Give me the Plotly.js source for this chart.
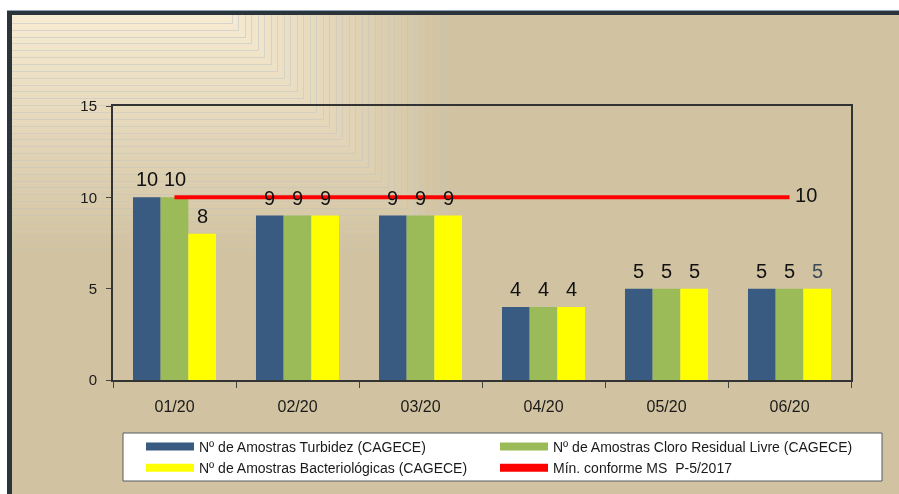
<!DOCTYPE html>
<html>
<head>
<meta charset="utf-8">
<script src="https://cdn.plot.ly/plotly-3.0.1.min.js"></script>
<style>
  html, body { margin: 0; padding: 0; background: #ffffff; }
  #wrap { position: relative; width: 899px; height: 494px; overflow: hidden; }
  #bg { position: absolute; left: 0; top: 0; }
  #chart { position: absolute; left: 0; top: 0; width: 899px; height: 494px; }
</style>
</head>
<body>
<div id="wrap">
  <canvas id="bg" width="899" height="494"></canvas>
  <div id="chart"></div>
</div>
<script>
// ---- data ----
const meses = ['01/20', '02/20', '03/20', '04/20', '05/20', '06/20'];
const turbidez = [10, 9, 9, 4, 5, 5];
const cloro = [10, 9, 9, 4, 5, 5];
const bacteriologicas = [8, 9, 9, 4, 5, 5];
const minimo = [10, 10, 10, 10, 10, 10];
const nomes = [
  'Nº de Amostras Turbidez (CAGECE)',
  'Nº de Amostras Cloro Residual Livre (CAGECE)',
  'Nº de Amostras Bacteriológicas (CAGECE)',
  'Mín. conforme MS  P-5/2017'
];

// ---- background (frame + fading pattern in the top-left corner) ----
(function drawBackground() {
  const c = document.getElementById('bg');
  const g = c.getContext('2d');
  const W = 899, H = 494;
  g.fillStyle = '#ffffff';
  g.fillRect(0, 0, W, H);
  const tan = [209, 195, 161];
  const cream = [248, 236, 211];
  g.fillStyle = 'rgb(' + tan.join(',') + ')';
  g.fillRect(7, 10, W - 7, H - 10);
  const N = 60;
  const x0 = 12, y0 = 15;
  for (let i = N; i >= 0; i--) {
    const s = i / N;
    const cx = 225 + s * 228;
    const cy = 16 + s * 240;
    const col = cream.map((v, k) => Math.round(v + (tan[k] - v) * Math.pow(s, 0.9)));
    g.fillStyle = 'rgb(' + col.join(',') + ')';
    g.fillRect(x0, y0, cx - x0, cy - y0);
  }
  // thin L-shaped lines
  g.lineWidth = 1;
  for (let i = 1; i <= 34; i++) {
    const s = i / 35;
    const cx = Math.round(225 + s * 228) + 0.5;
    const cy = Math.round(16 + s * 240) + 0.5;
    g.strokeStyle = 'rgba(175,188,202,' + (0.45 - 0.25 * s).toFixed(2) + ')';
    g.beginPath();
    g.moveTo(x0, cy);
    g.lineTo(cx, cy);
    g.lineTo(cx, y0);
    g.stroke();
  }
  // frame
  g.fillStyle = '#8ea3b8';
  g.fillRect(7, 10, W - 7, 1);
  g.fillStyle = '#2b333b';
  g.fillRect(7, 11, W - 7, 4);
  g.fillRect(7, 11, 5, H - 11);
})();

// ---- chart ----
const font = 'Liberation Sans, Arial, sans-serif';
const cores = ['#3a5b81', '#9bbb59', '#ffff00', '#ff0000'];
const series = [turbidez, cloro, bacteriologicas];

const L = 113, R = 48, T = 106, B = 114;
const pw = 899 - L - R, ph = 494 - T - B;
const px = (p) => (p - L) / pw;
const py = (p) => (494 - B - p) / ph;
const bargap = 0.325;
const barPx = pw / meses.length * (1 - bargap) / series.length;

const traces = series.map((vals, k) => ({
  type: 'bar',
  x: meses,
  y: vals,
  name: nomes[k],
  legendgroup: 'g' + k,
  showlegend: false,
  marker: { color: cores[k], line: { width: 0 } },
  hoverinfo: 'x+y+name'
}));

traces.push({
  type: 'scatter',
  mode: 'lines+text',
  x: meses,
  y: minimo,
  name: nomes[3],
  legendgroup: 'g3',
  showlegend: false,
  line: { color: cores[3], width: 4 },
  text: minimo.map((v, i) => i === minimo.length - 1 ? ' ' + v : ''),
  textposition: 'middle right',
  textfont: { family: font, size: 20, color: '#111111' },
  cliponaxis: false
});

// legend entries (wide swatches like the original), two columns
nomes.forEach((n, k) => {
  traces.push({
    type: 'scatter',
    mode: 'lines',
    x: [null],
    y: [null],
    name: n,
    legend: (k % 2 === 0) ? 'legend' : 'legend2',
    legendgroup: 'g' + k,
    showlegend: true,
    line: { color: cores[k], width: 8 },
    hoverinfo: 'skip'
  });
});

// value labels above the bars
const annotations = [];
series.forEach((vals, k) => {
  vals.forEach((v, i) => {
    annotations.push({
      x: meses[i], y: v, xref: 'x', yref: 'y',
      text: String(v), showarrow: false,
      xanchor: 'center', yanchor: 'bottom',
      xshift: (k - (series.length - 1) / 2) * barPx,
      yshift: 5,
      font: { family: font, size: 20,
              color: (k === 2 && i === vals.length - 1) ? '#3d4856' : '#111111' }
    });
  });
});

const legendBase = {
  orientation: 'v',
  xanchor: 'left',
  yanchor: 'top',
  bgcolor: 'rgba(0,0,0,0)',
  borderwidth: 0,
  font: { family: font, size: 14, color: '#1a1a1a' },
  itemwidth: 48,
  tracegroupgap: 0,
  itemclick: false,
  itemdoubleclick: false
};

const layout = {
  width: 899,
  height: 494,
  margin: { l: L, r: R, t: T, b: B, pad: 0, autoexpand: false },
  paper_bgcolor: 'rgba(0,0,0,0)',
  plot_bgcolor: 'rgba(0,0,0,0)',
  font: { family: font, color: '#1a1a1a', size: 14 },
  barmode: 'group',
  bargap: bargap,
  bargroupgap: 0,
  showlegend: true,
  annotations: annotations,
  xaxis: {
    type: 'category',
    automargin: false,
    tickson: 'boundaries',
    ticks: 'outside',
    ticklen: 6,
    tickwidth: 1,
    tickcolor: '#444',
    showline: true,
    linecolor: '#333',
    linewidth: 2,
    mirror: true,
    showgrid: false,
    zeroline: false,
    tickfont: { family: font, size: 16, color: '#1a1a1a' },
    ticklabelstandoff: 11,
    fixedrange: true
  },
  yaxis: {
    range: [0, 15],
    automargin: false,
    tickvals: [0, 5, 10, 15],
    ticks: 'outside',
    ticklen: 5,
    tickwidth: 1,
    tickcolor: '#444',
    showline: true,
    linecolor: '#333',
    linewidth: 2,
    mirror: true,
    showgrid: false,
    zeroline: false,
    tickfont: { family: font, size: 15, color: '#1a1a1a' },
    ticklabelstandoff: 6,
    fixedrange: true
  },
  legend: Object.assign({}, legendBase, { x: px(141), y: py(431) }),
  legend2: Object.assign({}, legendBase, { x: px(495), y: py(431) }),
  shapes: [{
    type: 'rect', xref: 'paper', yref: 'paper',
    x0: px(123), x1: px(882), y0: py(433), y1: py(481),
    fillcolor: '#ffffff',
    line: { color: '#555b60', width: 1 },
    layer: 'below'
  }]
};

Plotly.newPlot('chart', traces, layout, { displayModeBar: false, staticPlot: false });
</script>
</body>
</html>
